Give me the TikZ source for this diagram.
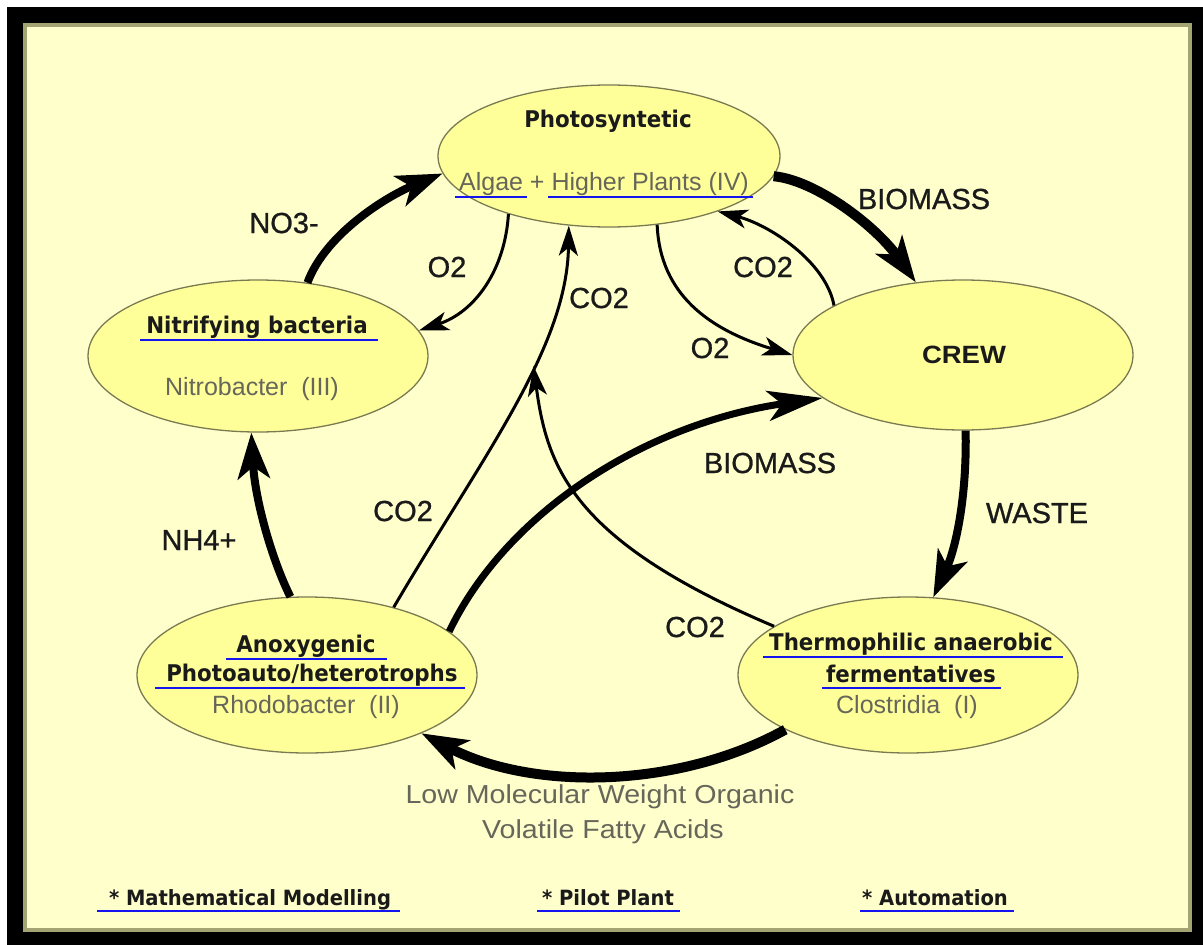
\documentclass[tikz,border=0pt]{standalone}
\usepackage{fontspec}
\setmainfont{Liberation Sans}
\newfontfamily\titlefam[FakeStretch=0.93]{DejaVu Sans}
\newfontfamily\widefam[FakeStretch=1.1]{Liberation Sans}
\newfontfamily\labelfam[FakeBold=0.9]{Liberation Sans}
\usetikzlibrary{shapes.geometric,arrows.meta}

\definecolor{paper}{HTML}{FFFFCC}
\definecolor{cell}{HTML}{FFFF99}
\definecolor{cellrim}{HTML}{7A7A52}
\definecolor{rim}{HTML}{A3A373}
\definecolor{note}{HTML}{66665A}
\definecolor{ink}{HTML}{1A1A1A}
\definecolor{link}{HTML}{1414F0}

\tikzset{
  unit/.style={ellipse, draw=cellrim, line width=1.3pt, fill=cell,
    minimum width=340pt, minimum height=150pt, inner sep=0pt},
  title/.style={anchor=base, text=ink, inner sep=0pt,
    font=\titlefam\bfseries\fontsize{23}{27}\selectfont},
  footer/.style={anchor=base, text=ink, inner sep=0pt,
    font=\titlefam\bfseries\fontsize{21}{25}\selectfont},
  species/.style={anchor=base, text=note, inner sep=0pt,
    font=\fontsize{25}{30}\selectfont},
  caption/.style={anchor=base, text=note, inner sep=0pt,
    font=\widefam\fontsize{26}{31}\selectfont},
  flowlabel/.style={anchor=base, text=ink, inner sep=0pt,
    font=\labelfam\fontsize{29}{34}\selectfont},
  uline/.style={draw=link, line width=2.5pt},
  heavy/.style={draw=black, line width=8pt,
    -{Stealth[length=46pt,width=32pt,inset=12pt]}},
  light/.style={draw=black, line width=3pt,
    -{Stealth[length=30pt,width=19pt,inset=8pt]}},
}

\begin{document}
\begin{tikzpicture}[x=1pt,y=-1pt]
  % frame
  \useasboundingbox (0,0) rectangle (1203,945);
  \fill[black] (0,0) rectangle (1203,945);
  \fill[white] (0,0) rectangle (1203,7);
  \fill[white] (0,0) rectangle (7,945);
  \filldraw[fill=paper, draw=rim, line width=4pt] (25,25) rectangle (1190,930);

  % the five compartments
  \node[unit, minimum width=342pt, minimum height=142pt] (photo) at (609,156) {};
  \node[unit, minimum height=152pt] (nitri) at (258,356) {};
  \node[unit] (crew) at (963,355) {};
  \node[unit, minimum height=156pt] (anox) at (307,675) {};
  \node[unit, minimum height=156pt] (thermo) at (908,675) {};

  % compartment texts
  \node[title] (t-photo) at (608,127) {Photosyntetic};
  \node[species] (s-photo) at (604,190) {Algae + Higher Plants (IV)};
  \node[title] (t-nitri) at (257,333) {Nitrifying bacteria};
  \node[species] (s-nitri) at (252,395) {Nitrobacter~~(III)};
  \node[anchor=base, text=ink, inner sep=0pt,
        font=\widefam\bfseries\fontsize{25}{30}\selectfont] (t-crew) at (964,363) {CREW};
  \node[title] (t-anox1) at (306,652) {Anoxygenic};
  \node[title] (t-anox2) at (312,681) {Photoauto/heterotrophs};
  \node[species] (s-anox) at (306,713) {Rhodobacter~~(II)};
  \node[title] (t-thermo1) at (911,650) {Thermophilic anaerobic};
  \node[title] (t-thermo2) at (911,682) {fermentatives};
  \node[species] (s-thermo) at (907,713) {Clostridia~~(I)};

  % underlines
  \draw[uline] (455,197) -- (527,197);
  \draw[uline] (548,197) -- (753,197);
  \draw[uline] (140,340) -- (378,340);
  \draw[uline] (226,659) -- (387,659);
  \draw[uline] (155,688) -- (465,688);
  \draw[uline] (763,657) -- (1063,657);
  \draw[uline] (822,688) -- (1001,688);

  % flows
  \draw[heavy] (nitri.56.5) .. controls (325,235) and (385,197) .. (photo.186.7);
  \draw[heavy] (anox.102.4) .. controls (272,560) and (255,500) .. (nitri.265.5);
  \draw[light] (photo.210.3) .. controls (505,270) and (475,312) .. (nitri.9.2);
  \draw[light] (anox.38.7) .. controls (482,457) and (567,348) ..
        coordinate[pos=0.61] (join) (photo.240.1);
  \draw[light] (thermo.160.4) .. controls (572,541) and (547,467) .. (join);
  \draw[heavy, line width=7pt, -{Stealth[length=55pt,width=30pt,inset=14pt]}]
        (anox.17.1) .. controls (505,515) and (642,424) .. (crew.197.5);
  \draw[light] (photo.305.7) .. controls (660,295) and (710,330) .. (crew.180);
  \draw[light] (crew.159.7) .. controls (826,262) and (770,225) .. (photo.333.6);
  \draw[heavy, line width=10pt] (photo.353.4) .. controls (815,180) and (875,225) .. (crew.123.3);
  \draw[heavy] (crew.272) .. controls (967,500) and (955,550) .. (thermo.72.7);
  \draw[heavy, line width=10pt] (thermo.204.6) .. controls (678,789) and (532,791) .. (anox.333.6);

  % flow labels
  \node[flowlabel] (l-no3) at (284,233) {NO3-};
  \node[flowlabel] (l-o2a) at (447,277) {O2};
  \node[flowlabel] (l-co2a) at (599,308) {CO2};
  \node[flowlabel] (l-bio1) at (924,209) {BIOMASS};
  \node[flowlabel] (l-co2b) at (763,277) {CO2};
  \node[flowlabel] (l-o2b) at (710,358) {O2};
  \node[flowlabel] (l-bio2) at (770,473) {BIOMASS};
  \node[flowlabel] (l-waste) at (1037,523) {WASTE};
  \node[flowlabel] (l-co2c) at (403,521) {CO2};
  \node[flowlabel] (l-co2d) at (695,637) {CO2};
  \node[flowlabel] (l-nh4) at (199,550) {NH4+};

  \node[caption] (c1) at (600,803) {Low Molecular Weight Organic};
  \node[caption] (c2) at (603,838) {Volatile Fatty Acids};

  % footer
  \node[footer] (f1) at (250,905) {* Mathematical Modelling};
  \node[footer] (f2) at (608,905) {* Pilot Plant};
  \node[footer] (f3) at (935,905) {* Automation};
  \draw[uline] (97,911) -- (400,911);
  \draw[uline] (537,911) -- (680,911);
  \draw[uline] (860,911) -- (1014,911);
\end{tikzpicture}
\end{document}
